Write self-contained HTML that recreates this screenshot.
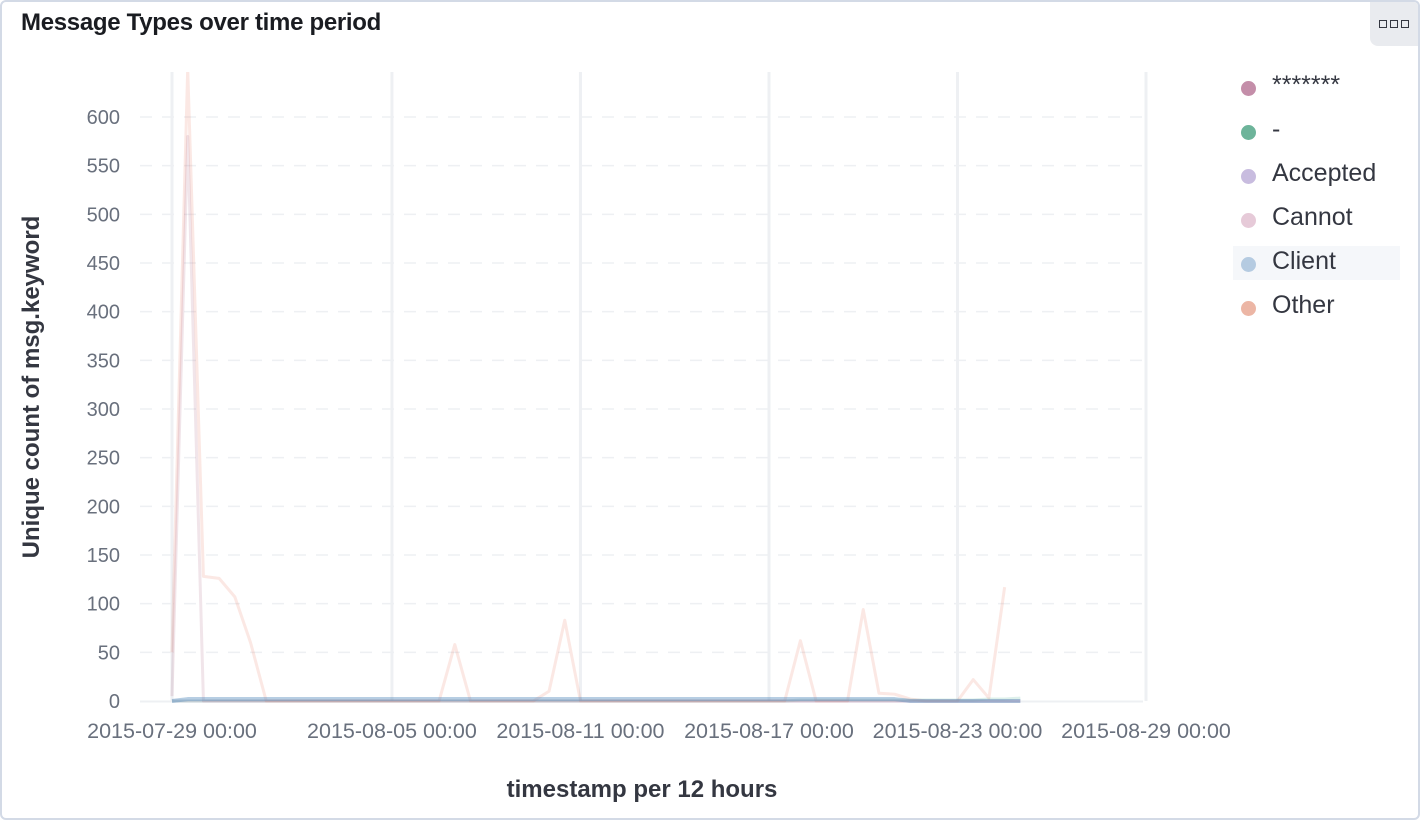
<!DOCTYPE html>
<html><head><meta charset="utf-8"><style>
body{margin:0;width:1420px;height:820px;background:#fff;font-family:"Liberation Sans",sans-serif;overflow:hidden}
.panel{position:absolute;left:0;top:0;width:1416px;height:816px;border:2px solid #d3dae6;border-radius:6px;background:#fff}
.title{position:absolute;left:19px;top:7px;font-size:24px;font-weight:bold;color:#1a1c21;letter-spacing:-0.3px}
.menu{position:absolute;right:0;top:0;width:48px;height:44px;background:#e9ebef;border-radius:0 4px 0 8px}
.menu span{position:absolute;top:18px;width:6px;height:6px;border:1.5px solid #343741}
.leg{position:absolute;left:1233px;height:34px;width:167px;font-size:25px;color:#343741}
.leg .dot{position:absolute;left:8px;top:13px;width:15px;height:15px;border-radius:50%}
.leg .t{position:absolute;left:39px;top:3px}
</style></head><body>
<div class="panel">
<div class="title">Message Types over time period</div>
<div class="menu"><span style="left:9px"></span><span style="left:20px"></span><span style="left:31px"></span></div>
</div>
<svg id="chart" width="1420" height="820" style="position:absolute;left:0;top:0"></svg>
<div class="leg" style="top:68px"><div class="dot" style="background:#c48ea9"></div><div class="t">*******</div></div>
<div class="leg" style="top:112px"><div class="dot" style="background:#6db49a"></div><div class="t">-</div></div>
<div class="leg" style="top:156px"><div class="dot" style="background:#c8bcdf"></div><div class="t">Accepted</div></div>
<div class="leg" style="top:200px"><div class="dot" style="background:#e6cad8"></div><div class="t">Cannot</div></div>
<div class="leg" style="top:246px;background:#f5f7fa"><div class="dot" style="background:#b5cbe1;top:11px"></div><div class="t" style="top:1px">Client</div></div>
<div class="leg" style="top:288px"><div class="dot" style="background:#ecb6a5"></div><div class="t">Other</div></div>
<script>
const yTicks=[0,50,100,150,200,250,300,350,400,450,500,550,600];
const xTickLabels=["2015-07-29 00:00","2015-08-05 00:00","2015-08-11 00:00","2015-08-17 00:00","2015-08-23 00:00","2015-08-29 00:00"];
const xTickDays=[0,7,13,19,25,31];
function z(n){return new Array(n).fill(0);}
const otherVals=[50,650,128,126,107,60].concat(z(12),[58],z(5),[10,83],z(13),[0,62,0,0,0,94,8,7,2,0,0,0,22,3,117]);
const cannotVals=[5,580].concat(z(53));
const clientVals=[0].concat(new Array(46).fill(2),z(8));
const dashVals=z(40).concat([1,1,1,1,1,1,1,1,1,1,1,1,2,2,3]);
const starVals=z(55);
const acceptedVals=z(55);
const NS="http://www.w3.org/2000/svg";
const svg=document.getElementById('chart');
const X0=172,PX_DAY=31.42,Y0=701,PX_UNIT=584/600;
const xs=d=>X0+d*PX_DAY, ys=v=>Y0-v*PX_UNIT;
function el(tag,attrs,parent){const e=document.createElementNS(NS,tag);for(const k in attrs)e.setAttribute(k,attrs[k]);(parent||svg).appendChild(e);return e;}
const clip=el('clipPath',{id:'c'});el('rect',{x:140,y:72,width:1010,height:640},clip);
yTicks.forEach(v=>{
 if(v>0){const g=el('line',{x1:140,x2:1143,y1:ys(v),y2:ys(v),stroke:'#eef0f3','stroke-width':1.5,'stroke-dasharray':'12 10'});
 
 }
 const t=el('text',{x:120,y:ys(v)+7,'text-anchor':'end','font-size':20,fill:'#69707d'});t.textContent=v;
 
 
});
xTickDays.forEach((d,i)=>{
 const g=el('line',{x1:xs(d),x2:xs(d),y1:72,y2:701,stroke:'#eef0f3','stroke-width':3});
 
 
 const t=el('text',{x:xs(d),y:738,'text-anchor':'middle','font-size':21.5,fill:'#69707d'});t.textContent=xTickLabels[i];
 
 
});
const ax=el('line',{x1:140,x2:1143,y1:701.5,y2:701.5,stroke:'#eef0f3','stroke-width':2});


function series(vals,color,op,name,w){
 const p=el('polyline',{points:vals.map((v,i)=>xs(i*0.5)+','+ys(v)).join(' '),fill:'none',stroke:color,'stroke-opacity':op,'stroke-width':w||3,'stroke-linejoin':'round','clip-path':'url(#c)'});
 
 
}
series(starVals,'#b0749b',0.12,'series-stars');
series(acceptedVals,'#9170b8',0.12,'series-accepted');
series(dashVals,'#54b399',0.2,'series-dash');
series(otherVals,'#e7664c',0.15,'series-other');
series(cannotVals,'#a05070',0.15,'series-cannot');
series(clientVals,'#6092c0',0.45,'series-client',4);
const yt=el('text',{transform:'translate(39,387) rotate(-90)','text-anchor':'middle','font-size':24,'font-weight':'bold',fill:'#343741'});yt.textContent='Unique count of msg.keyword';


const xt=el('text',{x:642,y:797,'text-anchor':'middle','font-size':24,'font-weight':'bold',fill:'#343741'});xt.textContent='timestamp per 12 hours';


</script>
</body></html>
